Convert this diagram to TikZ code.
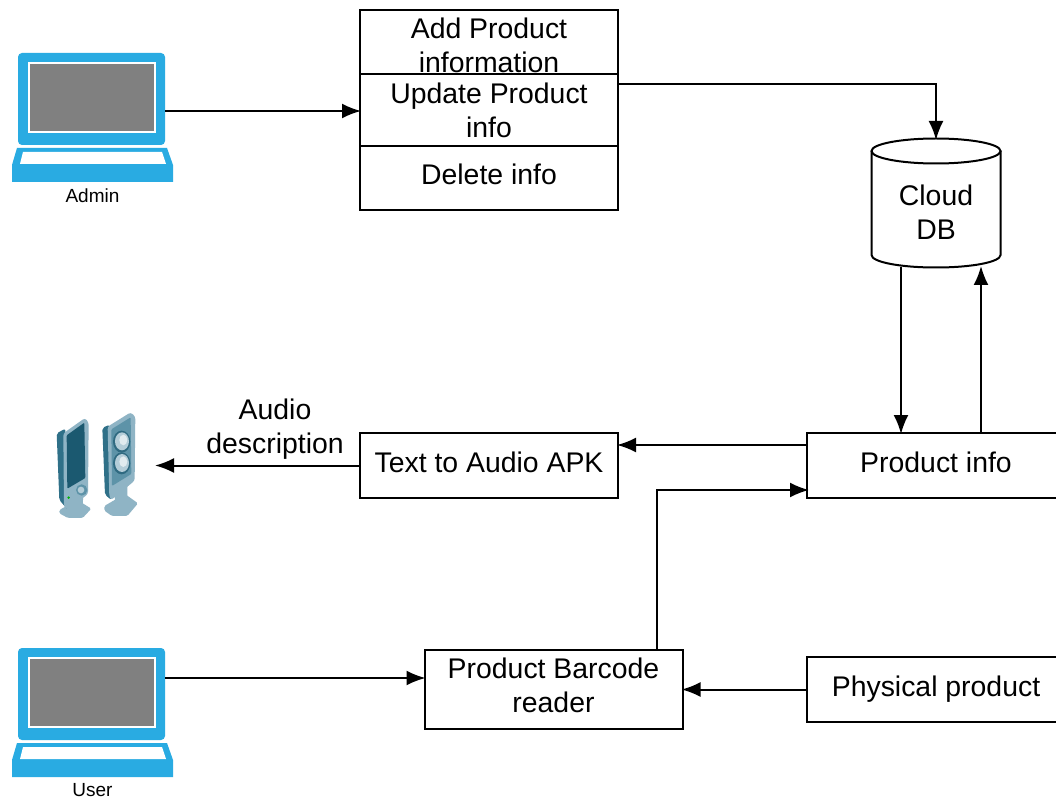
\documentclass[tikz,border=0pt]{standalone}
\usepackage{fontspec}
\setmainfont{Liberation Sans}
\usetikzlibrary{arrows.meta}
\definecolor{lapblue}{HTML}{29ABE2}
\definecolor{spkdark}{HTML}{1B5970}
\definecolor{spkside}{HTML}{2F7088}
\definecolor{spkmid}{HTML}{5D93A8}
\definecolor{spklight}{HTML}{8FB4C5}
\definecolor{spkpale}{HTML}{B4CDD8}
\tikzset{
  x=1pt,y=-1pt,
  boxnode/.style={draw=black,line width=2pt,minimum width=258pt,align=center,inner sep=0pt,font=\fontsize{28.4}{34}\selectfont},
  plainlabel/.style={align=center,inner sep=0pt,font=\fontsize{28.4}{34}\selectfont},
  smalllabel/.style={inner sep=0pt,font=\fontsize{19}{23}\selectfont},
  ghost/.style={inner sep=0pt,outer sep=0pt},
  flow/.style={draw=black,line width=2pt,shorten >=-2pt,-{Latex[length=19pt,width=15pt]}},
}
\newcommand{\laptopshape}{%
  \fill[lapblue,rounded corners=4pt] (18,53) rectangle (165,145);
  \fill[white] (28,62) rectangle (156,133);
  \fill[black!50] (30,64) rectangle (154,131);
  \fill[lapblue] (17,148) -- (167,148) -- (173,165) -- (173,182) -- (12,182) -- (12,165) -- cycle;
  \fill[white] (23,152) -- (162,152) -- (166,164) -- (20,164) -- cycle;
}
\begin{document}
\begin{tikzpicture}
\clip (0,0) rectangle (1056,799);
\fill[white] (0,0) rectangle (1056,799);

% laptops
\laptopshape
\begin{scope}[yshift=-595pt]
\laptopshape
\end{scope}
\node[ghost,minimum width=147pt,minimum height=92pt] (admin) at (91.5,99) {};
\node[ghost,minimum width=147pt,minimum height=92pt] (user) at (91.5,694) {};
\node[smalllabel] (adminlabel) at (92.5,195.5) {Admin};
\node[smalllabel] (userlabel) at (92.5,790.5) {User};

% speakers
\begin{scope}[shift={(40,400)},x=0.3333pt,y=-0.3333pt]
  % left
  \fill[spklight] (95,290) -- (130,280) -- (128,320) -- (95,330) -- cycle;
  \fill[spklight,rounded corners=1.5pt] (58,330) -- (112,300) -- (154,326) -- (128,354) -- (84,354) -- (58,340) -- cycle;
  \fill[spkside,rounded corners=2pt] (50,100) -- (76,86) -- (84,330) -- (58,300) -- cycle;
  \fill[spklight,rounded corners=2.5pt] (70,100) -- (135,54) -- (146,68) -- (144,282) -- (82,330) -- (72,320) -- cycle;
  \fill[spkdark,rounded corners=1pt] (80,106) -- (133,68) -- (136,234) -- (82,266) -- cycle;
  \fill[spkmid] (125,270) circle[radius=17];
  \fill[spkpale] (123,270) circle[radius=10];
  \fill[green!70!black] (86,293) circle[radius=4];
  % right
  \fill[spklight] (225,270) -- (262,250) -- (262,300) -- (225,320) -- cycle;
  \fill[spklight,rounded corners=1.5pt] (193,318) -- (255,282) -- (294,310) -- (262,348) -- (216,348) -- (193,332) -- cycle;
  \fill[spkside,rounded corners=2pt] (187,84) -- (208,74) -- (214,300) -- (195,284) -- cycle;
  \fill[spklight,rounded corners=2.5pt] (203,80) -- (272,37) -- (286,50) -- (284,242) -- (214,300) -- (208,290) -- cycle;
  \fill[spkmid,rounded corners=1pt] (214,88) -- (272,52) -- (274,222) -- (216,258) -- cycle;
  \fill[spkdark!70!spkmid] (245,125) ellipse[x radius=26,y radius=33];
  \fill[spkpale] (246,124) ellipse[x radius=21,y radius=27];
  \fill[white!60!spkpale] (250,120) ellipse[x radius=12,y radius=16];
  \fill[spkdark!70!spkmid] (245,190) ellipse[x radius=26,y radius=33];
  \fill[spkpale] (246,189) ellipse[x radius=21,y radius=27];
  \fill[white!60!spkpale] (250,185) ellipse[x radius=12,y radius=16];
\end{scope}
\coordinate (speakers) at (157,465);

% left stack
\node[boxnode,minimum height=64pt] (add) at (489,42) {};
\node[plainlabel] (addtext) at (489,45) {Add Product\\information};
\node[boxnode,minimum height=72pt] (upd) at (489,110) {Update Product\\info};
\node[boxnode,minimum height=64pt] (del) at (489,178) {};
\node[plainlabel] (deltext) at (489,174) {Delete info};

% database
\node[ghost,minimum width=129pt,minimum height=129pt] (db) at (936,203) {};
\draw[line width=2pt,fill=white] (871.5,151) -- (871.5,255)
   .. controls (871.5,262) and (900,267.5) .. (936,267.5)
   .. controls (972,267.5) and (1000.5,262) .. (1000.5,255) -- (1000.5,151);
\draw[line width=2pt,fill=white] (936,151) ellipse[x radius=64.5pt,y radius=12.5pt];
\node[plainlabel] (dbtext) at (936,212) {Cloud\\DB};

% other boxes
\node[boxnode,minimum height=65pt] (tts) at (489,465.5) {};
\node[plainlabel] (ttstext) at (489,462) {Text to Audio APK};
\node[boxnode,minimum height=65pt] (info) at (936,465.5) {};
\node[plainlabel] (infotext) at (936,462) {Product info};
\node[boxnode,minimum height=79pt] (reader) at (553.5,689.5) {};
\node[plainlabel] (readertext) at (553.5,685) {Product Barcode\\reader};
\node[boxnode,minimum height=65pt] (phys) at (936,689.5) {};
\node[plainlabel] (phystext) at (936,689) {Physical product};
\node[plainlabel] (audiolabel) at (275,429) {Audio\\description};

% connectors
\coordinate (adminOut) at (165,111);
\draw[flow] (adminOut) -- (adminOut -| upd.west);
\coordinate (dbtop) at (936,138);
\coordinate (updout) at (618,84);
\draw[flow] (updout) -| (dbtop);
\coordinate (dbdownS) at (901,267);
\coordinate (dbdownE) at (901,432);
\draw[flow] (dbdownS) -- (dbdownE);
\coordinate (dbupS) at (981,433);
\coordinate (dbupE) at (981,268);
\draw[flow] (dbupS) -- (dbupE);
\coordinate (infoA) at (807,445);
\draw[flow] (infoA) -- (infoA -| tts.east);
\draw[flow] (tts.west) -- (tts.west -| speakers);
\coordinate (readerTop) at (657,650);
\coordinate (infoB) at (807,490);
\draw[flow] (readerTop) |- (infoB);
\draw[flow] (phys.west) -- (phys.west -| reader.east);
\coordinate (userOut) at (165,678);
\draw[flow] (userOut) -- (userOut -| reader.west);
\end{tikzpicture}
\end{document}
